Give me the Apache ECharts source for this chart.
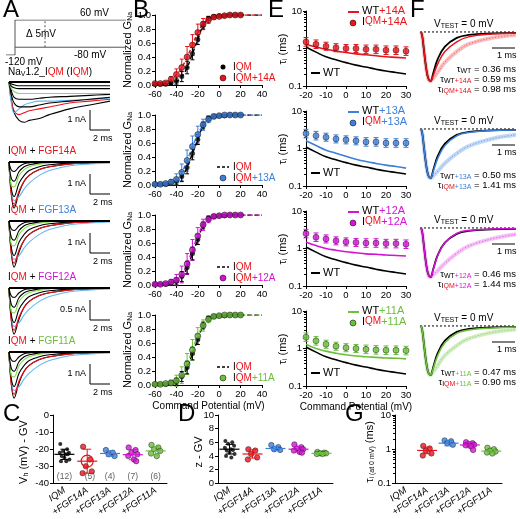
<!DOCTYPE html>
<html><head><meta charset="utf-8">
<script src="https://cdn.jsdelivr.net/npm/echarts@6/dist/echarts.min.js"></script>
<style>html,body{margin:0;padding:0;background:#fff}#c{width:520px;height:519px}</style>
</head><body><div id="c"></div>
<script>
// ---------- DATA ----------
const RED='#e8141b', BLUE='#3d7fd9', LBLUE='#62b8f0', MAG='#d414d4', GRN='#6cbf3c';
const fgfNames=['14A','13A','12A','11A'];
const fgfColors=[RED,BLUE,MAG,GRN];
// Panel A traces (time ms, current nA)
const tA=[0,0.2,0.5,1,1.5,2,3,4,6,8,10];
const iqmTraces=[
 ['#000',[0,-0.8,-1.6,-2.0,-2.1,-2.0,-1.9,-1.7,-1.4,-1.2,-1.0]],
 [RED,[0,-0.9,-1.5,-1.7,-1.6,-1.5,-1.4,-1.3,-1.1,-1.0,-0.9]],
 [LBLUE,[0,-1.0,-1.6,-1.4,-1.2,-1.1,-1.0,-1.0,-0.95,-0.9,-0.85]],
 ['#000',[0,-0.6,-1.1,-1.3,-1.3,-1.3,-1.2,-1.1,-1.0,-0.9,-0.8]],
 ['#000',[0,-0.4,-0.8,-0.9,-0.9,-0.9,-0.85,-0.8,-0.75,-0.7,-0.65]],
 ['#7ee04a',[0,-0.3,-0.5,-0.6,-0.6,-0.6,-0.6,-0.6,-0.6,-0.6,-0.6]],
 ['#000',[0,-0.2,-0.3,-0.35,-0.35,-0.35,-0.35,-0.35,-0.35,-0.35,-0.35]],
 ['#000',[0,-0.1,-0.15,-0.2,-0.2,-0.2,-0.2,-0.2,-0.2,-0.2,-0.2]]
];
const fgfTraces=[
 ['#000',[0,-1.5,-2.4,-1.6,-1.0,-0.7,-0.4,-0.25,-0.1,-0.05,0]],
 [LBLUE,[0,-1.4,-2.0,-1.8,-1.4,-1.1,-0.7,-0.45,-0.2,-0.1,-0.05]],
 [RED,[0,-1.6,-2.2,-1.5,-1.0,-0.7,-0.4,-0.25,-0.1,-0.05,0]],
 ['#000',[0,-1.3,-1.8,-1.1,-0.7,-0.45,-0.25,-0.15,-0.05,0,0]],
 ['#7ee04a',[0,-1.2,-1.3,-0.7,-0.4,-0.25,-0.12,-0.05,0,0,0]],
 ['#000',[0,-0.8,-1.0,-0.5,-0.25,-0.15,-0.05,0,0,0,0]],
 ['#000',[0,-0.4,-0.5,-0.25,-0.1,-0.05,0,0,0,0,0]]
];
// Panel B: G-V
const vB=[-60,-55,-50,-45,-40,-35,-30,-25,-20,-15,-10,-5,0,5,10,15,20];
const gIQM=[0.01,0.01,0.01,0.03,0.05,0.12,0.25,0.45,0.65,0.85,0.95,0.98,0.99,0.99,1,1,1];
const gFGF=[
 [0.02,0.02,0.03,0.08,0.15,0.25,0.40,0.57,0.75,0.87,0.93,0.97,0.98,0.99,1,1,1],
 [0.01,0.01,0.02,0.04,0.08,0.18,0.35,0.55,0.72,0.86,0.94,0.98,0.99,1,1,1,1],
 [0.01,0.01,0.02,0.04,0.07,0.15,0.30,0.50,0.70,0.86,0.94,0.98,0.99,1,1,1,1],
 [0.01,0.01,0.02,0.03,0.06,0.14,0.30,0.50,0.70,0.85,0.94,0.98,0.99,1,1,1,1]
];
const gErr=[0.01,0.01,0.02,0.04,0.08,0.12,0.15,0.15,0.12,0.08,0.05,0.03,0.02,0.01,0.01,0.01,0.01];
// Panel E: tau vs voltage
const vE=[-20,-15,-10,-5,0,5,10,15,20,25,30];
const tauWT=[1.1,0.8,0.6,0.5,0.42,0.36,0.32,0.28,0.25,0.23,0.21];
const tauWTF=[
 [1.3,1.1,0.95,0.85,0.78,0.72,0.68,0.64,0.60,0.58,0.56],
 [1.6,1.2,0.9,0.75,0.62,0.52,0.45,0.40,0.36,0.33,0.30],
 [1.5,1.2,1.0,0.9,0.82,0.77,0.72,0.70,0.67,0.65,0.63],
 [1.3,1.0,0.85,0.75,0.68,0.63,0.60,0.58,0.56,0.55,0.53]
];
const tauIQMF=[
 [1.5,1.3,1.15,1.05,1.0,1.0,0.95,0.95,0.9,0.9,0.85],
 [2.5,2.2,2.0,1.8,1.7,1.6,1.5,1.5,1.4,1.4,1.4],
 [2.5,2.0,1.8,1.6,1.5,1.45,1.4,1.4,1.35,1.35,1.3],
 [2.0,1.6,1.3,1.15,1.05,1.0,0.95,0.92,0.9,0.9,0.88]
];
const tauErrFrac=[0.3,0.3,0.28,0.28,0.28,0.28,0.3,0.3,0.3,0.3,0.3];
// Panel F: normalized traces at 0 mV
const tF=[0,0.05,0.1,0.2,0.3,0.4,0.5,0.7,1.0,1.5,2,3,4];
const fWT=[0,-0.1,-0.3,-0.7,-0.95,-1,-0.85,-0.55,-0.3,-0.12,-0.06,-0.03,-0.02];
const fWTF=[
 [0,-0.1,-0.3,-0.7,-0.95,-1,-0.9,-0.65,-0.4,-0.2,-0.1,-0.04,-0.02],
 [0,-0.1,-0.3,-0.7,-0.95,-1,-0.88,-0.6,-0.34,-0.14,-0.07,-0.03,-0.02],
 [0,-0.1,-0.3,-0.7,-0.95,-1,-0.86,-0.56,-0.3,-0.11,-0.05,-0.02,-0.01],
 [0,-0.1,-0.3,-0.7,-0.95,-1,-0.88,-0.6,-0.34,-0.15,-0.08,-0.04,-0.02]
];
const fIQMF=[
 [0,-0.1,-0.3,-0.7,-0.95,-1,-0.95,-0.82,-0.62,-0.4,-0.25,-0.12,-0.06],
 [0,-0.1,-0.3,-0.7,-0.95,-1,-0.96,-0.86,-0.7,-0.5,-0.35,-0.2,-0.12],
 [0,-0.1,-0.3,-0.7,-0.95,-1,-0.96,-0.87,-0.72,-0.52,-0.37,-0.22,-0.13],
 [0,-0.1,-0.3,-0.7,-0.95,-1,-0.94,-0.8,-0.6,-0.4,-0.26,-0.13,-0.07]
];
const fLight=[ '#f08a8a','#8fb8ee','#ee90ee','#a8e08a'];
const tauTxt=[['0.36','0.59','0.98'],['0.50','1.41'],['0.46','1.44'],['0.47','0.90']];
// Panels C, D, G
const groups=['IQM','+FGF14A','+FGF13A','+FGF12A','+FGF11A'];
const groupColors=['#000',RED,BLUE,MAG,GRN];
const nLabels=['(12)','(5)','(4)','(7)','(6)'];
const vhVals=[[-17,-20,-21,-22,-22,-23,-23,-24,-25,-26,-27,-27],[-18.5,-26,-30,-33,-34],[-20.5,-22,-23,-24],[-19,-20.5,-22,-23,-24,-26,-27],[-17.5,-19,-20,-21,-22.5,-24]];
const vhMean=[-23,-27,-22.5,-23.2,-21], vhSd=[3,7,1.6,3,2.4];
const zVals=[[6.2,6,5.8,5.5,5.2,5,4.9,4.8,4.5,4.3,4,3.8],[5,4.8,4.3,3.8,3.5],[5.6,5.3,5,4.9],[5.7,5.3,5.1,5,4.8,4.6,4.5],[4.6,4.5,4.4,4.4,4.3,4.3]];
const zMean=[5.0,4.3,5.1,5.0,4.4], zSd=[0.7,0.6,0.3,0.4,0.12];
const tauVals=[[],[1.25,1.05,0.9,0.75,0.65],[1.8,1.7,1.5,1.35],[1.6,1.5,1.4,1.35,1.3,1.2,0.95],[1.1,1.0,0.9,0.85,0.8,0.75]];
const tauMean=[null,0.92,1.5,1.33,0.88], tauSd=[null,0.25,0.2,0.2,0.13];
const jitter=[-0.18,0.12,-0.06,0.2,-0.2,0.05,0.15,-0.12,0.0,0.22,-0.15,0.08];

// ---------- BUILD ----------
const FONT='Liberation Sans';
const grid=[],xAxis=[],yAxis=[],series=[],graphic=[];
function addGrid(g,xa,ya){grid.push(Object.assign({containLabel:false},g));const i=grid.length-1;
 xAxis.push(Object.assign({gridIndex:i},xa));yAxis.push(Object.assign({gridIndex:i},ya));return i;}
const axLine={onZero:false,lineStyle:{color:'#000',width:1}};
const lab={color:'#000',fontSize:9.5,fontFamily:FONT};
const richStyles={
 s:{fontSize:7,fill:'#000',padding:[5,0,0,0]},r:{fontSize:10,fill:RED},sr:{fontSize:7,fill:RED,padding:[5,0,0,0]},
 c0:{fill:fgfColors[0]},c1:{fill:fgfColors[1]},c2:{fill:fgfColors[2]},c3:{fill:fgfColors[3]},
 s0:{fontSize:7,fill:fgfColors[0],padding:[5,0,0,0]},s1:{fontSize:7,fill:fgfColors[1],padding:[5,0,0,0]},s2:{fontSize:7,fill:fgfColors[2],padding:[5,0,0,0]},s3:{fontSize:7,fill:fgfColors[3],padding:[5,0,0,0]}};
function txt(x,y,t,o,rot){graphic.push({type:'text',x,y,rotation:rot||0,style:Object.assign({text:t,fill:'#000',font:'10px '+FONT},o||{})});}
function rich(x,y,t,o,rot){graphic.push({type:'text',x,y,rotation:rot||0,style:Object.assign({text:t,fill:'#000',fontFamily:FONT,fontSize:10,rich:richStyles},o||{})});}
function line(x1,y1,x2,y2,o){graphic.push({type:'line',shape:{x1,y1,x2,y2},style:Object.assign({stroke:'#000',lineWidth:1},o||{})});}
function errSeries(gi,data,color,cap){return {type:'custom',xAxisIndex:gi,yAxisIndex:gi,data,z:3,renderItem:(p,api)=>{
 const x=api.value(0),lo=api.value(1),hi=api.value(2);const a=api.coord([x,lo]),b=api.coord([x,hi]);
 return {type:'group',children:[{type:'line',shape:{x1:a[0],y1:a[1],x2:b[0],y2:b[1]},style:{stroke:color,lineWidth:1}},
 {type:'line',shape:{x1:a[0]-cap,y1:a[1],x2:a[0]+cap,y2:a[1]},style:{stroke:color,lineWidth:1}},
 {type:'line',shape:{x1:b[0]-cap,y1:b[1],x2:b[0]+cap,y2:b[1]},style:{stroke:color,lineWidth:1}}]};}};}
const R90=Math.PI/2, VC={align:'center',verticalAlign:'middle'};

// Panel letters
[['A',3,-2],['B',133,-2],['E',268,-2],['F',410,-2],['C',3,402],['D',178,402],['G',345,402]].forEach(([t,x,y])=>txt(x,y,t,{font:'24px '+FONT}));

// A: protocol
{const gi=addGrid({left:6,top:20,width:120,height:35},{type:'value',min:0,max:40,show:false},{type:'value',min:-120,max:60,show:false});
 series.push({type:'line',xAxisIndex:gi,yAxisIndex:gi,data:[[0,-120],[3,-120],[3,60],[40,60]],symbol:'none',lineStyle:{color:'#555',width:1}});
 series.push({type:'line',xAxisIndex:gi,yAxisIndex:gi,data:[[3,-80],[40,-80]],symbol:'none',lineStyle:{color:'#555',width:1}});
 series.push({type:'line',xAxisIndex:gi,yAxisIndex:gi,data:[[13,-80],[13,60]],symbol:'none',lineStyle:{color:'#555',width:1,type:[2,2]}});
 txt(80,8,'60 mV');txt(74,50,'-80 mV');txt(5,57,'-120 mV');txt(26,29,'Δ 5mV');}
// A: traces
const aTops=[80,160,219,286,350];
const aLabels=['Na{s|V}1.2_I{r|QM} (I{r|QM})','I{r|QM} + {c0|FGF14A}','I{r|QM} + {c1|FGF13A}','I{r|QM} + {c2|FGF12A}','I{r|QM} + {c3|FGF11A}'];
const aScale=['1 nA','1 nA','1 nA','0.5 nA','1 nA'];
aTops.forEach((top,k)=>{
 const gi=addGrid({left:6,top:top,width:104,height:50},{type:'value',min:-0.3,max:10,show:false},{type:'value',min:-2.5,max:0.1,show:false});
 const tr=k===0?iqmTraces:fgfTraces;
 tr.forEach(([c,v])=>series.push({type:'line',xAxisIndex:gi,yAxisIndex:gi,data:tA.map((t,i)=>[t,v[i]]),smooth:0.4,symbol:'none',lineStyle:{color:c,width:1.1}}));
 series.push({type:'line',xAxisIndex:gi,yAxisIndex:gi,data:[[0,0],[10,0]],symbol:'none',lineStyle:{color:'#000',width:2}});
 rich(8,top-14,aLabels[k]);
 const sx=90,sy=top+(k===0?30:14);
 line(sx,sy,sx,sy+20);line(sx,sy+20,sx+20,sy+20);
 txt(sx-4,sy+5,aScale[k],{align:'right',font:'9px '+FONT});txt(sx+3,sy+24,'2 ms',{font:'9px '+FONT});
});

// B: G-V
const bTops=[15,115,215,315];
bTops.forEach((top,k)=>{
 const gi=addGrid({left:155,top:top,width:107,height:70},
  {type:'value',min:-60,max:40,interval:20,axisLine:axLine,axisTick:{length:3,lineStyle:{color:'#000'}},splitLine:{show:false},axisLabel:Object.assign({margin:4},lab),
   name:k===3?'Command Potential (mV)':'',nameLocation:'middle',nameGap:16,nameTextStyle:{color:'#000',fontSize:10,fontFamily:FONT}},
  {type:'value',min:0,max:1,interval:0.2,axisLine:Object.assign({show:true},axLine),axisTick:{show:true,length:3,lineStyle:{color:'#000'}},splitLine:{show:false},axisLabel:Object.assign({margin:4,formatter:v=>v.toFixed(1)},lab)});
 const c=fgfColors[k];
 series.push({type:'line',xAxisIndex:gi,yAxisIndex:gi,data:vB.map((v,i)=>[v,gIQM[i]]).concat([[40,1]]),smooth:0.5,symbol:'none',lineStyle:{color:'#000',width:1.5,type:[4,3]},z:4});
 series.push({type:'line',xAxisIndex:gi,yAxisIndex:gi,data:vB.map((v,i)=>[v,gFGF[k][i]]).concat([[40,1]]),smooth:0.5,symbol:'none',lineStyle:{color:c,width:1.5,type:[4,3]},z:4});
 series.push(errSeries(gi,vB.map((v,i)=>[v,gFGF[k][i]-gErr[i],Math.min(1.08,gFGF[k][i]+gErr[i])]),c,2));
 series.push(errSeries(gi,vB.map((v,i)=>[v,gIQM[i]-gErr[i]*0.6,gIQM[i]+gErr[i]*0.6]),'#000',2));
 series.push({type:'scatter',xAxisIndex:gi,yAxisIndex:gi,data:vB.map((v,i)=>[v,gIQM[i]]),symbolSize:5,itemStyle:{color:'#000'},z:5});
 series.push({type:'scatter',xAxisIndex:gi,yAxisIndex:gi,data:vB.map((v,i)=>[v,gFGF[k][i]]),symbolSize:6,itemStyle:{color:c,borderColor:'#000',borderWidth:0.6},z:6});
 rich(128,top+35,'Normalized G{s|Na}',Object.assign({fontSize:11},VC),R90);
 const lx=213,ly=top+47;
 if(k===0){graphic.push({type:'circle',shape:{cx:lx+10,cy:ly+5,r:2.5},style:{fill:'#000'}});}
 else line(lx+4,ly+5,lx+16,ly+5,{lineWidth:1.5,lineDash:[3,2]});
 graphic.push({type:'circle',shape:{cx:lx+10,cy:ly+16,r:3},style:{fill:c,stroke:'#000',lineWidth:0.5}});
 rich(lx+20,ly,'I{r|QM}');rich(lx+20,ly+11,'I{r|QM}{c'+k+'|+'+fgfNames[k]+'}');
});

// E: tau vs V
const eTops=[11,111,211,311];
eTops.forEach((top,k)=>{
 const gi=addGrid({left:306,top:top,width:100,height:75},
  {type:'value',min:-20,max:30,interval:10,axisLine:axLine,axisTick:{length:3,lineStyle:{color:'#000'}},splitLine:{show:false},axisLabel:Object.assign({margin:4},lab),
   name:k===3?'Command Potential (mV)':'',nameLocation:'middle',nameGap:16,nameTextStyle:{color:'#000',fontSize:10,fontFamily:FONT}},
  {type:'log',min:0.1,max:10,logBase:10,axisLine:Object.assign({show:true},axLine),axisTick:{show:true,length:3,lineStyle:{color:'#000'}},minorTick:{show:true,length:2,splitNumber:9,lineStyle:{color:'#000'}},splitLine:{show:false},axisLabel:Object.assign({margin:4},lab)});
 const c=fgfColors[k];
 series.push({type:'line',xAxisIndex:gi,yAxisIndex:gi,data:vE.map((v,i)=>[v,tauWT[i]]),smooth:0.5,symbol:'none',lineStyle:{color:'#000',width:1.6}});
 series.push({type:'line',xAxisIndex:gi,yAxisIndex:gi,data:vE.map((v,i)=>[v,tauWTF[k][i]]),smooth:0.5,symbol:'none',lineStyle:{color:c,width:1.6}});
 series.push(errSeries(gi,vE.map((v,i)=>[v,tauIQMF[k][i]/(1+tauErrFrac[i]),tauIQMF[k][i]*(1+tauErrFrac[i])]),c,2.5));
 series.push({type:'scatter',xAxisIndex:gi,yAxisIndex:gi,data:vE.map((v,i)=>[v,tauIQMF[k][i]]),symbolSize:6,itemStyle:{color:c,borderColor:'#000',borderWidth:0.5},z:5});
 rich(283,top+38,'τ{s|i} (ms)',Object.assign({fontSize:11},VC),R90);
 line(311,top+62,320,top+62,{lineWidth:2});txt(323,top+56,'WT',{font:'11px '+FONT});
 line(348,top+1,359,top+1,{stroke:c,lineWidth:2});rich(362,top-6,'WT{c'+k+'|+'+fgfNames[k]+'}',{fontSize:11});
 graphic.push({type:'circle',shape:{cx:353,cy:top+12,r:3},style:{fill:c,stroke:'#000',lineWidth:0.5}});
 rich(362,top+5,'I{r|QM}{c'+k+'|+'+fgfNames[k]+'}',{fontSize:11});
});

// F: normalized traces
const fBase=[32,129,228,326];
fBase.forEach((b,k)=>{
 const gi=addGrid({left:420,top:b-2,width:96,height:52},{type:'value',min:-0.05,max:4,show:false},{type:'value',min:-1.02,max:0.04,show:false});
 const c=fgfColors[k];
 series.push({type:'line',xAxisIndex:gi,yAxisIndex:gi,data:[[-0.05,0],[4,0]],symbol:'none',lineStyle:{color:'#000',width:1,type:[2,2]}});
 series.push({type:'line',xAxisIndex:gi,yAxisIndex:gi,data:tF.map((t,i)=>[t,fIQMF[k][i]]),smooth:0.4,symbol:'none',lineStyle:{color:fLight[k],width:4,opacity:0.55}});
 series.push({type:'line',xAxisIndex:gi,yAxisIndex:gi,data:tF.map((t,i)=>[t,fIQMF[k][i]]),smooth:0.4,symbol:'none',lineStyle:{color:c,width:1,type:[1,2],opacity:0.7}});
 series.push({type:'line',xAxisIndex:gi,yAxisIndex:gi,data:tF.map((t,i)=>[t,fWT[i]]),smooth:0.4,symbol:'none',lineStyle:{color:'#000',width:1.8}});
 series.push({type:'line',xAxisIndex:gi,yAxisIndex:gi,data:tF.map((t,i)=>[t,fWTF[k][i]]),smooth:0.4,symbol:'none',lineStyle:{color:c,width:1.5}});
 rich(434,b-14,'V{s|TEST} = 0 mV',{fontSize:10});
 line(492,b+16,515,b+16);txt(497,b+19,'1 ms',{font:'9px '+FONT});
 const tt=tauTxt[k];const lines=[];
 if(k===0) lines.push('τ{s|WT} = '+tt[0]+' ms');
 lines.push('τ{s|WT}{s'+k+'|+'+fgfNames[k]+'} = '+tt[lines.length]+' ms');
 lines.push('τ{s|I}{sr|QM}{s'+k+'|+'+fgfNames[k]+'} = '+tt[lines.length]+' ms');
 const y0=k===0?b+31:b+40;
 lines.forEach((l,j)=>rich(516,y0+j*10,l,{align:'right',fontSize:9.5}));
});

// C, D, G
function dotPanel(left,width,yax,vals,mean,sd,showN,hollowIdx){
 const gi=addGrid({left,top:415,width,height:75},
  {type:'category',data:groups,axisLine:axLine,axisTick:{alignWithLabel:true,length:3,lineStyle:{color:'#000'}},axisLabel:Object.assign({rotate:35,margin:6,interval:0,fontStyle:'italic'},lab)},yax);
 xAxis.push({gridIndex:gi,type:'value',min:-0.5,max:4.5,show:false});const xi=xAxis.length-1;
 vals.forEach((arr,g)=>{
  series.push({type:'scatter',xAxisIndex:xi,yAxisIndex:gi,data:arr.map((v,i)=>[g+jitter[i],v]),symbolSize:g===0?4:5.5,
   itemStyle:{color:groupColors[g],borderColor:'#000',borderWidth:g===0?0:0.5},z:5});
 });
 const ed=[];
 mean.forEach((m,g)=>{if(m===null)return;ed.push([g,yax.type==='log'?m/(1+sd[g]):m-sd[g],yax.type==='log'?m*(1+sd[g]):m+sd[g],m]);});
 series.push({type:'custom',xAxisIndex:xi,yAxisIndex:gi,data:ed,z:6,renderItem:(p,api)=>{
  const g=api.value(0),c=groupColors[g];const a=api.coord([g,api.value(1)]),b=api.coord([g,api.value(2)]),m=api.coord([g,api.value(3)]);
  const ch=[{type:'line',shape:{x1:a[0],y1:a[1],x2:b[0],y2:b[1]},style:{stroke:c,lineWidth:1}},
   {type:'line',shape:{x1:a[0]-4,y1:a[1],x2:a[0]+4,y2:a[1]},style:{stroke:c,lineWidth:1}},
   {type:'line',shape:{x1:b[0]-4,y1:b[1],x2:b[0]+4,y2:b[1]},style:{stroke:c,lineWidth:1}},
   {type:'line',shape:{x1:m[0]-10,y1:m[1],x2:m[0]+10,y2:m[1]},style:{stroke:c,lineWidth:1.2}}];
  if(g===hollowIdx) ch.push({type:'circle',shape:{cx:m[0],cy:m[1],r:6},style:{fill:'none',stroke:c,lineWidth:1.2}});
  return {type:'group',children:ch};}});
 if(showN) series.push({type:'scatter',xAxisIndex:xi,yAxisIndex:gi,data:nLabels.map((n,g)=>[g+(g===1?0.12:0),-36]),symbolSize:0,
  label:{show:true,position:'inside',formatter:p=>nLabels[p.dataIndex],color:'#333',fontSize:8.5,fontFamily:FONT}});
 return gi;
}
const yLin=(min,max,iv)=>({type:'value',min,max,interval:iv,axisLine:Object.assign({show:true},axLine),axisTick:{show:true,length:3,lineStyle:{color:'#000'}},splitLine:{show:false},axisLabel:Object.assign({margin:4},lab)});
dotPanel(53,114,yLin(-40,0,10),vhVals,vhMean,vhSd,true,1);
rich(24,452,'V{s|h} (mV) - GV',Object.assign({fontSize:11},VC),R90);
dotPanel(218,115,yLin(0,10,2),zVals,zMean,zSd,false,-1);
txt(199,452,'z - GV',Object.assign({font:'11px '+FONT},VC),R90);
dotPanel(395,107,{type:'log',min:0.1,max:10,logBase:10,axisLine:Object.assign({show:true},axLine),axisTick:{show:true,length:3,lineStyle:{color:'#000'}},minorTick:{show:true,length:2,splitNumber:9,lineStyle:{color:'#000'}},splitLine:{show:false},axisLabel:Object.assign({margin:4},lab)},tauVals,tauMean,tauSd,false,-1);
rich(370,452,'τ{s|i (at 0 mV)} (ms)',Object.assign({fontSize:11},VC),R90);

const chart=echarts.init(document.getElementById('c'),null,{renderer:'canvas'});
chart.setOption({animation:false,textStyle:{fontFamily:FONT},grid,xAxis,yAxis,series,graphic});
</script></body></html>
